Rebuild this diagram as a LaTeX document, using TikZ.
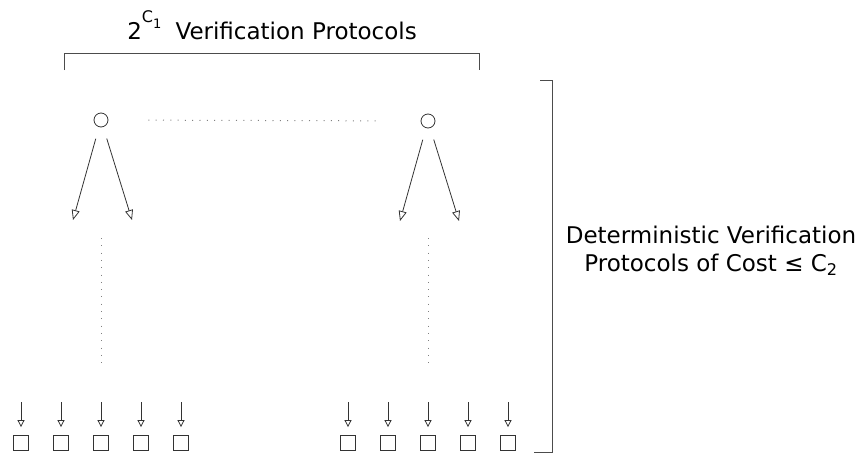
\documentclass[tikz,border=0pt]{standalone}
\usepackage{fontspec}
\setmainfont{DejaVu Sans}
\usetikzlibrary{arrows.meta, positioning}

\begin{document}
\begin{tikzpicture}[
    x=1pt, y=-1pt,
    font=\fontsize{23}{28}\selectfont,
    root/.style={draw=black!80, circle, inner sep=0pt, minimum size=14pt, line width=0.8pt},
    leaf/.style={draw=black!80, rectangle, inner sep=0pt, minimum size=15pt, line width=0.8pt},
    branch/.style={draw=black!80, -{Triangle[open, length=10pt, width=8pt]}, line width=0.8pt, shorten <=12pt},
    drop/.style={draw=black!80, -{Triangle[open, length=7pt, width=7pt]}, line width=0.8pt, shorten >=8pt},
    dots/.style={gray, line width=1pt, dash pattern=on 1pt off 6.3pt},
    bracket/.style={draw=black!70, line width=0.9pt}
]
\useasboundingbox (0,0) rectangle (863,458);

% Nodes
\node (title) at (272,25) {2\raisebox{0.72em}{\fontsize{16}{16}\selectfont C\raisebox{-0.35em}{\fontsize{13}{13}\selectfont 1}}\hspace{0.3em} Verification Protocols};
\node[root] (lroot) at (101,120) {};
\node[root] (rroot) at (428,121) {};
\node[align=center] (cost) at (711,251) {Deterministic Verification\\ Protocols of Cost ≤ C\textsubscript{2}};

% branch ends
\coordinate (l1) at (73,220);
\coordinate (l2) at (132,220);
\coordinate (r1) at (400,221);
\coordinate (r2) at (459,221);

% leaves
\foreach \i in {1,...,5} {
    \node[leaf] (lleaf\i) at ({-19+40*\i},443) {};
    \coordinate (ltop\i) at ({-19+40*\i},402);
    \node[leaf] (rleaf\i) at ({308+40*\i},443) {};
    \coordinate (rtop\i) at ({308+40*\i},402);
}

% Edges
\draw[branch] (lroot) -- (l1);
\draw[branch] (lroot) -- (l2);
\draw[branch] (rroot) -- (r1);
\draw[branch] (rroot) -- (r2);
\foreach \i in {1,...,5} {
    \draw[drop] (ltop\i) -- (lleaf\i);
    \draw[drop] (rtop\i) -- (rleaf\i);
}

% dots
\draw[dots, shorten <=40pt, shorten >=40pt] (lroot) -- (rroot);
\draw[dots] (101,238) -- (101,366);
\draw[dots] (428,238) -- (428,366);

% brackets
\draw[bracket] (64,70) -- (64,53) -- (479,53) -- (479,70);
\draw[bracket] (540,80) -- (552,80) -- (552,452) -- (534,452);

\end{tikzpicture}
\end{document}
